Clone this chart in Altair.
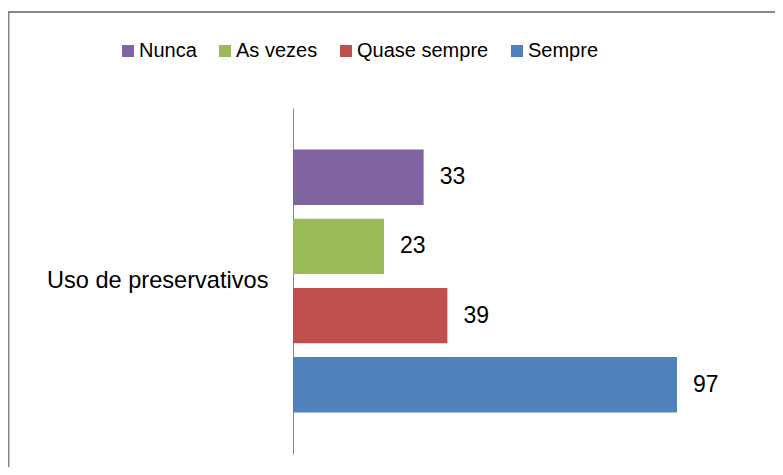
import altair as alt
import pandas as pd

category = "Uso de preservativos"
series = ["Nunca", "As vezes", "Quase sempre", "Sempre"]
values = [33, 23, 39, 97]
colors = ["#8064A2", "#9BBB59", "#C0504D", "#4F81BD"]

df = pd.DataFrame({"serie": series, "valor": values, "categoria": [category] * len(series)})

FONT = "Liberation Sans"

y_enc = alt.Y(
    "serie:N",
    sort=series,
    scale=alt.Scale(paddingInner=0.2, paddingOuter=0.6),
    axis=alt.Axis(
        title=category,
        labels=False,
        ticks=False,
        grid=False,
        domainColor="#868686",
        domainWidth=1,
        titleAngle=0,
        titleAlign="right",
        titleBaseline="middle",
        titleX=-25,
        titleY=172,
        titleFont=FONT,
        titleFontSize=23.6,
        titleFontWeight="normal",
        titleColor="#000000",
    ),
)
x_enc = alt.X("valor:Q", scale=alt.Scale(domain=[0, 120], nice=False), axis=None)

base = alt.Chart(df)

bars = base.mark_bar().encode(
    x=x_enc,
    y=y_enc,
    color=alt.Color(
        "serie:N",
        sort=series,
        scale=alt.Scale(domain=series, range=colors),
        legend=alt.Legend(
            title=None,
            orient="none",
            legendX=-175,
            legendY=-67,
            direction="horizontal",
            columns=4,
            symbolType="square",
            symbolSize=144,
            symbolStrokeWidth=0,
            symbolOpacity=1,
            labelFont=FONT,
            labelFontSize=20,
            labelColor="#000000",
            labelOffset=1,
            columnPadding=18,
        ),
    ),
)

labels = base.mark_text(
    align="left", baseline="middle", dx=16, font=FONT, fontSize=23, color="#000000"
).encode(x=x_enc, y=alt.Y("serie:N", sort=series), text="valor:Q")

frame = alt.Chart(pd.DataFrame({"a": [0]})).mark_rect(
    fill=None, stroke="#868686", strokeWidth=2
).encode(
    x=alt.value(-284.5), x2=alt.value(1000), y=alt.value(-96), y2=alt.value(1000)
)

chart = alt.layer(frame, bars, labels).properties(
    width=475,
    height=346,
    background="white",
    autosize=alt.AutoSizeParams(type="none"),
    padding={"left": 285, "top": 100, "right": 7, "bottom": 13},
).configure_view(stroke=None)

chart.save("out.html", embed_options={"renderer": "svg", "actions": False})
